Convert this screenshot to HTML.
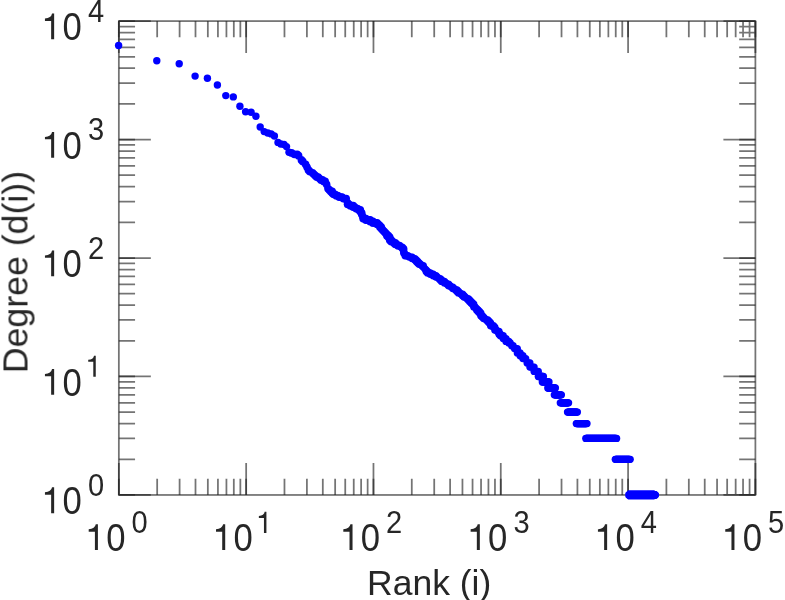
<!DOCTYPE html>
<html><head><meta charset="utf-8"><title>Degree vs Rank</title>
<style>
html,body{margin:0;padding:0;background:#fff;}
body{width:785px;height:600px;overflow:hidden;}
svg{display:block;}
text{font-family:"Liberation Sans",sans-serif;fill:#262626;}
</style></head><body>
<svg width="785" height="600" viewBox="0 0 785 600">
<defs><filter id="bl" x="-5%" y="-5%" width="110%" height="110%"><feGaussianBlur stdDeviation="0.45"/></filter></defs>
<rect width="785" height="600" fill="#ffffff"/>
<g fill="none" stroke="#262626" stroke-opacity="0.64" stroke-width="1.75" filter="url(#bl)">
<rect x="118.85" y="21.10" width="636.55" height="473.85"/>
<path d="M118.85 494.95V462.95M118.85 21.10V53.10M157.17 494.95V478.75M157.17 21.10V37.30M179.59 494.95V478.75M179.59 21.10V37.30M195.50 494.95V478.75M195.50 21.10V37.30M207.84 494.95V478.75M207.84 21.10V37.30M217.92 494.95V478.75M217.92 21.10V37.30M226.44 494.95V478.75M226.44 21.10V37.30M233.82 494.95V478.75M233.82 21.10V37.30M240.33 494.95V478.75M240.33 21.10V37.30M246.16 494.95V462.95M246.16 21.10V53.10M284.48 494.95V478.75M284.48 21.10V37.30M306.90 494.95V478.75M306.90 21.10V37.30M322.81 494.95V478.75M322.81 21.10V37.30M335.15 494.95V478.75M335.15 21.10V37.30M345.23 494.95V478.75M345.23 21.10V37.30M353.75 494.95V478.75M353.75 21.10V37.30M361.13 494.95V478.75M361.13 21.10V37.30M367.64 494.95V478.75M367.64 21.10V37.30M373.47 494.95V462.95M373.47 21.10V53.10M411.79 494.95V478.75M411.79 21.10V37.30M434.21 494.95V478.75M434.21 21.10V37.30M450.12 494.95V478.75M450.12 21.10V37.30M462.46 494.95V478.75M462.46 21.10V37.30M472.54 494.95V478.75M472.54 21.10V37.30M481.06 494.95V478.75M481.06 21.10V37.30M488.44 494.95V478.75M488.44 21.10V37.30M494.95 494.95V478.75M494.95 21.10V37.30M500.78 494.95V462.95M500.78 21.10V53.10M539.10 494.95V478.75M539.10 21.10V37.30M561.52 494.95V478.75M561.52 21.10V37.30M577.43 494.95V478.75M577.43 21.10V37.30M589.77 494.95V478.75M589.77 21.10V37.30M599.85 494.95V478.75M599.85 21.10V37.30M608.37 494.95V478.75M608.37 21.10V37.30M615.75 494.95V478.75M615.75 21.10V37.30M622.26 494.95V478.75M622.26 21.10V37.30M628.09 494.95V462.95M628.09 21.10V53.10M666.41 494.95V478.75M666.41 21.10V37.30M688.83 494.95V478.75M688.83 21.10V37.30M704.74 494.95V478.75M704.74 21.10V37.30M717.08 494.95V478.75M717.08 21.10V37.30M727.16 494.95V478.75M727.16 21.10V37.30M735.68 494.95V478.75M735.68 21.10V37.30M743.06 494.95V478.75M743.06 21.10V37.30M749.57 494.95V478.75M749.57 21.10V37.30M755.40 494.95V462.95M755.40 21.10V53.10M118.85 494.95H150.85M755.40 494.95H723.40M118.85 459.29H135.05M755.40 459.29H739.20M118.85 438.43H135.05M755.40 438.43H739.20M118.85 423.63H135.05M755.40 423.63H739.20M118.85 412.15H135.05M755.40 412.15H739.20M118.85 402.77H135.05M755.40 402.77H739.20M118.85 394.84H135.05M755.40 394.84H739.20M118.85 387.97H135.05M755.40 387.97H739.20M118.85 381.91H135.05M755.40 381.91H739.20M118.85 376.49H150.85M755.40 376.49H723.40M118.85 340.83H135.05M755.40 340.83H739.20M118.85 319.97H135.05M755.40 319.97H739.20M118.85 305.17H135.05M755.40 305.17H739.20M118.85 293.69H135.05M755.40 293.69H739.20M118.85 284.31H135.05M755.40 284.31H739.20M118.85 276.38H135.05M755.40 276.38H739.20M118.85 269.51H135.05M755.40 269.51H739.20M118.85 263.45H135.05M755.40 263.45H739.20M118.85 258.02H150.85M755.40 258.02H723.40M118.85 222.36H135.05M755.40 222.36H739.20M118.85 201.50H135.05M755.40 201.50H739.20M118.85 186.70H135.05M755.40 186.70H739.20M118.85 175.22H135.05M755.40 175.22H739.20M118.85 165.84H135.05M755.40 165.84H739.20M118.85 157.91H135.05M755.40 157.91H739.20M118.85 151.04H135.05M755.40 151.04H739.20M118.85 144.98H135.05M755.40 144.98H739.20M118.85 139.56H150.85M755.40 139.56H723.40M118.85 103.90H135.05M755.40 103.90H739.20M118.85 83.04H135.05M755.40 83.04H739.20M118.85 68.24H135.05M755.40 68.24H739.20M118.85 56.76H135.05M755.40 56.76H739.20M118.85 47.38H135.05M755.40 47.38H739.20M118.85 39.45H135.05M755.40 39.45H739.20M118.85 32.58H135.05M755.40 32.58H739.20M118.85 26.52H135.05M755.40 26.52H739.20M118.85 21.10H150.85M755.40 21.10H723.40"/>
<path d="M118.85 494.95V478.75M118.85 21.10V37.30M246.16 494.95V478.75M246.16 21.10V37.30M373.47 494.95V478.75M373.47 21.10V37.30M500.78 494.95V478.75M500.78 21.10V37.30M628.09 494.95V478.75M628.09 21.10V37.30M755.40 494.95V478.75M755.40 21.10V37.30M118.85 494.95H135.05M755.40 494.95H739.20M118.85 376.49H135.05M755.40 376.49H739.20M118.85 258.02H135.05M755.40 258.02H739.20M118.85 139.56H135.05M755.40 139.56H739.20M118.85 21.10H135.05M755.40 21.10H739.20"/>
</g>
<g filter="url(#bl)"><g fill="#262626"><path d="M94.90 550.10h3.00v-25.80h-2.10q-0.90 4.70 -7.10 5.00v2.40h6.20z"/><text transform="translate(106.2,551.1) scale(0.95,1.04)" font-size="36.5">0</text><text transform="translate(131.4,533.3) scale(0.97,1.025)" font-size="30.0">0</text><path d="M222.21 550.10h3.00v-25.80h-2.10q-0.90 4.70 -7.10 5.00v2.40h6.20z"/><text transform="translate(233.5,551.1) scale(0.95,1.04)" font-size="36.5">0</text><path d="M263.96 533.00h2.46v-21.16h-1.72q-0.74 3.85 -5.82 4.10v1.97h5.08z"/><path d="M349.52 550.10h3.00v-25.80h-2.10q-0.90 4.70 -7.10 5.00v2.40h6.20z"/><text transform="translate(360.8,551.1) scale(0.95,1.04)" font-size="36.5">0</text><text transform="translate(386.1,533.3) scale(0.97,1.025)" font-size="30.0">2</text><path d="M476.83 550.10h3.00v-25.80h-2.10q-0.90 4.70 -7.10 5.00v2.40h6.20z"/><text transform="translate(488.1,551.1) scale(0.95,1.04)" font-size="36.5">0</text><text transform="translate(513.4,533.3) scale(0.97,1.025)" font-size="30.0">3</text><path d="M604.14 550.10h3.00v-25.80h-2.10q-0.90 4.70 -7.10 5.00v2.40h6.20z"/><text transform="translate(615.4,551.1) scale(0.95,1.04)" font-size="36.5">0</text><text transform="translate(640.7,533.3) scale(0.97,1.025)" font-size="30.0">4</text><path d="M731.45 550.10h3.00v-25.80h-2.10q-0.90 4.70 -7.10 5.00v2.40h6.20z"/><text transform="translate(742.7,551.1) scale(0.95,1.04)" font-size="36.5">0</text><text transform="translate(768.0,533.3) scale(0.97,1.025)" font-size="30.0">5</text><path d="M51.15 513.15h3.00v-25.80h-2.10q-0.90 4.70 -7.10 5.00v2.40h6.20z"/><text transform="translate(62.4,514.1) scale(0.95,1.04)" font-size="36.5">0</text><text transform="translate(88.1,495.6) scale(0.97,1.025)" font-size="30.0">0</text><path d="M51.15 394.69h3.00v-25.80h-2.10q-0.90 4.70 -7.10 5.00v2.40h6.20z"/><text transform="translate(62.4,395.7) scale(0.95,1.04)" font-size="36.5">0</text><path d="M93.30 376.79h2.46v-21.16h-1.72q-0.74 3.85 -5.82 4.10v1.97h5.08z"/><path d="M51.15 276.22h3.00v-25.80h-2.10q-0.90 4.70 -7.10 5.00v2.40h6.20z"/><text transform="translate(62.4,277.2) scale(0.95,1.04)" font-size="36.5">0</text><text transform="translate(88.1,258.6) scale(0.97,1.025)" font-size="30.0">2</text><path d="M51.15 157.76h3.00v-25.80h-2.10q-0.90 4.70 -7.10 5.00v2.40h6.20z"/><text transform="translate(62.4,158.8) scale(0.95,1.04)" font-size="36.5">0</text><text transform="translate(88.1,140.2) scale(0.97,1.025)" font-size="30.0">3</text><path d="M51.15 39.30h3.00v-25.80h-2.10q-0.90 4.70 -7.10 5.00v2.40h6.20z"/><text transform="translate(62.4,40.3) scale(0.95,1.04)" font-size="36.5">0</text><text transform="translate(88.1,21.7) scale(0.97,1.025)" font-size="30.0">4</text></g>
<text transform="translate(367.1,594.7) scale(0.988,0.955)" font-size="35.9">Rank (i)</text>
<text transform="translate(27.0,373.2) rotate(-90) scale(1,0.985)" font-size="35.7">Degree (d(i))</text></g>
<g fill="#0000ff" filter="url(#bl)"><circle cx="118.6" cy="45.5" r="3.70"/><circle cx="156.8" cy="60.8" r="3.70"/><circle cx="179.2" cy="63.7" r="3.70"/><circle cx="195.1" cy="76.1" r="3.70"/><circle cx="207.4" cy="78.3" r="3.70"/><circle cx="217.4" cy="85.0" r="3.70"/><circle cx="225.8" cy="95.6" r="3.70"/><circle cx="233.3" cy="96.9" r="3.70"/><circle cx="239.9" cy="106.2" r="3.70"/><circle cx="245.6" cy="111.7" r="3.70"/><circle cx="251.1" cy="112.2" r="3.70"/><circle cx="255.9" cy="116.2" r="3.70"/><circle cx="260.2" cy="127.0" r="3.70"/><circle cx="264.2" cy="131.6" r="3.70"/><circle cx="267.8" cy="133.0" r="3.70"/><circle cx="271.2" cy="133.9" r="3.70"/><circle cx="274.4" cy="136.0" r="3.70"/><circle cx="278.0" cy="142.4" r="3.70"/><circle cx="280.8" cy="144.0" r="3.70"/><circle cx="284.0" cy="144.4" r="3.70"/><circle cx="286.5" cy="146.6" r="3.70"/><circle cx="289.0" cy="152.3" r="3.70"/><ellipse cx="291.6" cy="152.9" rx="3.81" ry="3.89"/><ellipse cx="294.4" cy="154.3" rx="3.81" ry="3.89"/><ellipse cx="297.2" cy="154.3" rx="3.81" ry="3.89"/><ellipse cx="298.6" cy="155.7" rx="3.81" ry="3.89"/><ellipse cx="301.4" cy="160.0" rx="3.81" ry="3.89"/><ellipse cx="302.8" cy="161.4" rx="3.81" ry="3.89"/><ellipse cx="305.6" cy="164.3" rx="3.81" ry="3.89"/><ellipse cx="307.0" cy="167.1" rx="3.81" ry="3.89"/><ellipse cx="308.4" cy="170.0" rx="3.81" ry="3.89"/><ellipse cx="309.8" cy="171.4" rx="3.81" ry="3.89"/><ellipse cx="312.6" cy="172.9" rx="3.81" ry="3.89"/><ellipse cx="314.0" cy="174.3" rx="3.81" ry="3.89"/><ellipse cx="315.4" cy="175.7" rx="3.81" ry="3.89"/><ellipse cx="316.8" cy="177.1" rx="3.81" ry="3.89"/><ellipse cx="318.2" cy="177.1" rx="3.81" ry="3.89"/><ellipse cx="319.6" cy="178.6" rx="3.81" ry="3.89"/><ellipse cx="321.0" cy="180.0" rx="3.81" ry="3.89"/><ellipse cx="322.4" cy="180.0" rx="3.81" ry="3.89"/><ellipse cx="323.8" cy="181.4" rx="3.81" ry="3.89"/><ellipse cx="325.2" cy="181.4" rx="3.81" ry="3.89"/><ellipse cx="326.6" cy="184.3" rx="3.81" ry="3.89"/><ellipse cx="328.0" cy="188.6" rx="3.81" ry="3.89"/><ellipse cx="329.4" cy="190.0" rx="3.81" ry="3.89"/><ellipse cx="330.8" cy="191.4" rx="3.81" ry="3.89"/><ellipse cx="332.2" cy="191.4" rx="3.81" ry="3.89"/><ellipse cx="332.2" cy="192.9" rx="3.81" ry="3.89"/><ellipse cx="333.6" cy="194.3" rx="3.81" ry="3.89"/><ellipse cx="335.0" cy="194.3" rx="3.81" ry="3.89"/><ellipse cx="336.4" cy="195.7" rx="3.81" ry="3.89"/><ellipse cx="337.8" cy="195.7" rx="3.81" ry="3.89"/><ellipse cx="339.2" cy="197.1" rx="3.81" ry="3.89"/><ellipse cx="340.6" cy="197.1" rx="3.81" ry="3.89"/><ellipse cx="342.0" cy="197.1" rx="3.81" ry="3.89"/><ellipse cx="343.4" cy="198.6" rx="3.81" ry="3.89"/><ellipse cx="344.8" cy="198.6" rx="3.81" ry="3.89"/><ellipse cx="346.2" cy="198.6" rx="3.81" ry="3.89"/><ellipse cx="347.6" cy="202.9" rx="3.81" ry="3.89"/><ellipse cx="347.6" cy="204.3" rx="3.81" ry="3.89"/><ellipse cx="349.0" cy="204.3" rx="3.81" ry="3.89"/><ellipse cx="350.4" cy="205.7" rx="3.81" ry="3.89"/><ellipse cx="351.8" cy="205.7" rx="3.81" ry="3.89"/><ellipse cx="353.2" cy="205.7" rx="3.81" ry="3.89"/><ellipse cx="353.2" cy="207.1" rx="3.81" ry="3.89"/><ellipse cx="354.7" cy="207.1" rx="3.81" ry="3.89"/><ellipse cx="356.1" cy="208.6" rx="3.81" ry="3.89"/><ellipse cx="357.5" cy="208.6" rx="3.81" ry="3.89"/><ellipse cx="358.9" cy="210.0" rx="3.81" ry="3.89"/><ellipse cx="360.3" cy="210.0" rx="3.81" ry="3.89"/><ellipse cx="360.3" cy="211.4" rx="3.81" ry="3.89"/><ellipse cx="361.7" cy="212.9" rx="3.81" ry="3.89"/><ellipse cx="361.7" cy="214.3" rx="3.81" ry="3.89"/><ellipse cx="363.1" cy="217.1" rx="3.81" ry="3.89"/><ellipse cx="363.1" cy="218.6" rx="3.81" ry="3.89"/><ellipse cx="364.5" cy="218.6" rx="3.81" ry="3.89"/><ellipse cx="365.9" cy="218.6" rx="3.81" ry="3.89"/><ellipse cx="365.9" cy="220.0" rx="3.81" ry="3.89"/><ellipse cx="367.3" cy="220.0" rx="3.81" ry="3.89"/><ellipse cx="368.7" cy="220.0" rx="3.81" ry="3.89"/><ellipse cx="370.1" cy="220.0" rx="3.81" ry="3.89"/><ellipse cx="370.1" cy="221.4" rx="3.81" ry="3.89"/><ellipse cx="371.5" cy="221.4" rx="3.81" ry="3.89"/><ellipse cx="372.9" cy="221.4" rx="3.81" ry="3.89"/><ellipse cx="372.9" cy="222.9" rx="3.81" ry="3.89"/><ellipse cx="374.3" cy="222.9" rx="3.81" ry="3.89"/><ellipse cx="375.7" cy="222.9" rx="3.81" ry="3.89"/><ellipse cx="377.1" cy="222.9" rx="3.81" ry="3.89"/><ellipse cx="377.1" cy="224.3" rx="3.81" ry="3.89"/><ellipse cx="378.5" cy="224.3" rx="3.81" ry="3.89"/><ellipse cx="379.9" cy="225.7" rx="3.81" ry="3.89"/><ellipse cx="379.9" cy="227.1" rx="3.81" ry="3.89"/><ellipse cx="381.3" cy="227.1" rx="3.81" ry="3.89"/><ellipse cx="381.3" cy="228.6" rx="3.81" ry="3.89"/><ellipse cx="382.7" cy="230.0" rx="3.81" ry="3.89"/><ellipse cx="384.1" cy="231.4" rx="3.81" ry="3.89"/><ellipse cx="385.5" cy="232.9" rx="3.81" ry="3.89"/><ellipse cx="386.9" cy="234.3" rx="3.81" ry="3.89"/><ellipse cx="386.9" cy="235.7" rx="3.81" ry="3.89"/><ellipse cx="388.3" cy="235.7" rx="3.81" ry="3.89"/><ellipse cx="388.3" cy="237.1" rx="3.81" ry="3.89"/><ellipse cx="389.7" cy="237.1" rx="3.81" ry="3.89"/><ellipse cx="389.7" cy="238.6" rx="3.81" ry="3.89"/><ellipse cx="389.7" cy="240.0" rx="3.81" ry="3.89"/><ellipse cx="391.1" cy="240.0" rx="3.81" ry="3.89"/><ellipse cx="391.1" cy="241.4" rx="3.81" ry="3.89"/><ellipse cx="392.5" cy="241.4" rx="3.81" ry="3.89"/><ellipse cx="393.9" cy="242.9" rx="3.81" ry="3.89"/><ellipse cx="395.3" cy="242.9" rx="3.81" ry="3.89"/><ellipse cx="395.3" cy="244.3" rx="3.81" ry="3.89"/><ellipse cx="396.7" cy="244.3" rx="3.81" ry="3.89"/><ellipse cx="398.1" cy="245.7" rx="3.81" ry="3.89"/><ellipse cx="399.5" cy="245.7" rx="3.81" ry="3.89"/><ellipse cx="400.9" cy="247.1" rx="3.64" ry="3.71"/><ellipse cx="402.3" cy="247.1" rx="3.64" ry="3.71"/><ellipse cx="402.3" cy="248.6" rx="3.64" ry="3.71"/><ellipse cx="403.7" cy="248.6" rx="3.64" ry="3.71"/><ellipse cx="403.7" cy="250.0" rx="3.64" ry="3.71"/><ellipse cx="403.7" cy="251.4" rx="3.64" ry="3.71"/><ellipse cx="403.7" cy="252.9" rx="3.64" ry="3.71"/><ellipse cx="405.1" cy="254.3" rx="3.64" ry="3.71"/><ellipse cx="405.1" cy="255.7" rx="3.64" ry="3.71"/><ellipse cx="406.5" cy="255.7" rx="3.64" ry="3.71"/><ellipse cx="407.9" cy="255.7" rx="3.64" ry="3.71"/><ellipse cx="409.3" cy="257.1" rx="3.64" ry="3.71"/><ellipse cx="410.7" cy="257.1" rx="3.64" ry="3.71"/><ellipse cx="412.1" cy="257.1" rx="3.64" ry="3.71"/><ellipse cx="412.1" cy="258.6" rx="3.64" ry="3.71"/><ellipse cx="413.5" cy="258.6" rx="3.64" ry="3.71"/><ellipse cx="414.9" cy="258.6" rx="3.64" ry="3.71"/><ellipse cx="414.9" cy="260.0" rx="3.64" ry="3.71"/><ellipse cx="416.3" cy="260.0" rx="3.64" ry="3.71"/><ellipse cx="416.3" cy="261.4" rx="3.64" ry="3.71"/><ellipse cx="417.7" cy="261.4" rx="3.64" ry="3.71"/><ellipse cx="417.7" cy="262.9" rx="3.64" ry="3.71"/><ellipse cx="419.1" cy="262.9" rx="3.64" ry="3.71"/><ellipse cx="419.1" cy="264.3" rx="3.64" ry="3.71"/><ellipse cx="420.5" cy="264.3" rx="3.64" ry="3.71"/><ellipse cx="421.9" cy="265.7" rx="3.64" ry="3.71"/><ellipse cx="423.3" cy="265.7" rx="3.64" ry="3.71"/><ellipse cx="423.3" cy="267.1" rx="3.64" ry="3.71"/><ellipse cx="424.7" cy="268.6" rx="3.64" ry="3.71"/><ellipse cx="426.1" cy="270.0" rx="3.64" ry="3.71"/><ellipse cx="426.1" cy="271.4" rx="3.64" ry="3.71"/><ellipse cx="427.5" cy="271.4" rx="3.64" ry="3.71"/><ellipse cx="427.5" cy="272.9" rx="3.64" ry="3.71"/><ellipse cx="428.9" cy="272.9" rx="3.64" ry="3.71"/><ellipse cx="430.3" cy="272.9" rx="3.64" ry="3.71"/><ellipse cx="430.3" cy="274.3" rx="3.64" ry="3.71"/><ellipse cx="431.7" cy="274.3" rx="3.64" ry="3.71"/><ellipse cx="433.2" cy="274.3" rx="3.64" ry="3.71"/><ellipse cx="433.2" cy="275.7" rx="3.64" ry="3.71"/><ellipse cx="434.6" cy="275.7" rx="3.64" ry="3.71"/><ellipse cx="436.0" cy="275.7" rx="3.64" ry="3.71"/><ellipse cx="436.0" cy="277.1" rx="3.64" ry="3.71"/><ellipse cx="437.4" cy="277.1" rx="3.64" ry="3.71"/><ellipse cx="438.8" cy="278.6" rx="3.64" ry="3.71"/><ellipse cx="440.2" cy="278.6" rx="3.64" ry="3.71"/><ellipse cx="440.2" cy="280.0" rx="3.64" ry="3.71"/><ellipse cx="441.6" cy="280.0" rx="3.64" ry="3.71"/><ellipse cx="441.6" cy="281.4" rx="3.64" ry="3.71"/><ellipse cx="443.0" cy="281.4" rx="3.64" ry="3.71"/><ellipse cx="444.4" cy="281.4" rx="3.64" ry="3.71"/><ellipse cx="444.4" cy="282.9" rx="3.64" ry="3.71"/><ellipse cx="445.8" cy="282.9" rx="3.64" ry="3.71"/><ellipse cx="447.2" cy="284.3" rx="3.64" ry="3.71"/><ellipse cx="448.6" cy="284.3" rx="3.64" ry="3.71"/><ellipse cx="448.6" cy="285.7" rx="3.64" ry="3.71"/><ellipse cx="450.0" cy="285.7" rx="3.64" ry="3.71"/><ellipse cx="451.4" cy="287.1" rx="3.64" ry="3.71"/><ellipse cx="452.8" cy="287.1" rx="3.64" ry="3.71"/><ellipse cx="452.8" cy="288.6" rx="3.64" ry="3.71"/><ellipse cx="454.2" cy="288.6" rx="3.64" ry="3.71"/><ellipse cx="455.6" cy="290.0" rx="3.64" ry="3.71"/><ellipse cx="457.0" cy="290.0" rx="3.64" ry="3.71"/><ellipse cx="457.0" cy="291.4" rx="3.64" ry="3.71"/><ellipse cx="458.4" cy="291.4" rx="3.64" ry="3.71"/><ellipse cx="458.4" cy="292.9" rx="3.64" ry="3.71"/><ellipse cx="459.8" cy="292.9" rx="3.64" ry="3.71"/><ellipse cx="461.2" cy="294.3" rx="3.64" ry="3.71"/><ellipse cx="462.6" cy="294.3" rx="3.64" ry="3.71"/><ellipse cx="462.6" cy="295.7" rx="3.64" ry="3.71"/><ellipse cx="464.0" cy="295.7" rx="3.64" ry="3.71"/><ellipse cx="464.0" cy="297.1" rx="3.64" ry="3.71"/><ellipse cx="465.4" cy="297.1" rx="3.64" ry="3.71"/><ellipse cx="466.8" cy="298.6" rx="3.64" ry="3.71"/><ellipse cx="468.2" cy="298.6" rx="3.64" ry="3.71"/><ellipse cx="468.2" cy="300.0" rx="3.64" ry="3.71"/><ellipse cx="469.6" cy="300.0" rx="3.64" ry="3.71"/><ellipse cx="469.6" cy="301.4" rx="3.64" ry="3.71"/><ellipse cx="471.0" cy="301.4" rx="3.64" ry="3.71"/><ellipse cx="471.0" cy="302.9" rx="3.64" ry="3.71"/><ellipse cx="472.4" cy="302.9" rx="3.64" ry="3.71"/><ellipse cx="472.4" cy="304.3" rx="3.64" ry="3.71"/><ellipse cx="473.8" cy="304.3" rx="3.64" ry="3.71"/><ellipse cx="473.8" cy="305.7" rx="3.64" ry="3.71"/><ellipse cx="473.8" cy="307.1" rx="3.64" ry="3.71"/><ellipse cx="475.2" cy="307.1" rx="3.64" ry="3.71"/><ellipse cx="476.6" cy="308.6" rx="3.64" ry="3.71"/><ellipse cx="476.6" cy="310.0" rx="3.64" ry="3.71"/><ellipse cx="478.0" cy="310.0" rx="3.64" ry="3.71"/><ellipse cx="478.0" cy="311.4" rx="3.64" ry="3.71"/><ellipse cx="479.4" cy="311.4" rx="3.64" ry="3.71"/><ellipse cx="479.4" cy="312.9" rx="3.64" ry="3.71"/><ellipse cx="480.8" cy="312.9" rx="3.64" ry="3.71"/><ellipse cx="480.8" cy="315.7" rx="3.64" ry="3.71"/><ellipse cx="482.2" cy="315.7" rx="3.64" ry="3.71"/><ellipse cx="482.2" cy="317.1" rx="3.64" ry="3.71"/><ellipse cx="483.6" cy="317.1" rx="3.64" ry="3.71"/><ellipse cx="483.6" cy="318.6" rx="3.64" ry="3.71"/><ellipse cx="485.0" cy="318.6" rx="3.64" ry="3.71"/><ellipse cx="486.4" cy="320.0" rx="3.64" ry="3.71"/><ellipse cx="487.8" cy="320.0" rx="3.64" ry="3.71"/><ellipse cx="487.8" cy="321.4" rx="3.64" ry="3.71"/><ellipse cx="489.2" cy="321.4" rx="3.64" ry="3.71"/><ellipse cx="489.2" cy="322.9" rx="3.64" ry="3.71"/><ellipse cx="490.6" cy="322.9" rx="3.64" ry="3.71"/><ellipse cx="490.6" cy="325.7" rx="3.64" ry="3.71"/><ellipse cx="492.0" cy="325.7" rx="3.64" ry="3.71"/><ellipse cx="493.4" cy="325.7" rx="3.64" ry="3.71"/><ellipse cx="493.4" cy="327.1" rx="3.64" ry="3.71"/><ellipse cx="494.8" cy="327.1" rx="3.64" ry="3.71"/><ellipse cx="494.8" cy="330.0" rx="3.64" ry="3.71"/><ellipse cx="496.2" cy="330.0" rx="3.64" ry="3.71"/><ellipse cx="497.6" cy="331.4" rx="3.64" ry="3.71"/><ellipse cx="499.0" cy="331.4" rx="3.64" ry="3.71"/><ellipse cx="499.0" cy="334.3" rx="3.64" ry="3.71"/><ellipse cx="500.4" cy="334.3" rx="3.64" ry="3.71"/><ellipse cx="500.4" cy="335.7" rx="3.64" ry="3.71"/><ellipse cx="501.8" cy="335.7" rx="3.64" ry="3.71"/><ellipse cx="503.2" cy="335.7" rx="3.64" ry="3.71"/><ellipse cx="503.2" cy="338.6" rx="3.64" ry="3.71"/><ellipse cx="504.6" cy="338.6" rx="3.64" ry="3.71"/><ellipse cx="506.0" cy="338.6" rx="3.64" ry="3.71"/><ellipse cx="506.0" cy="341.4" rx="3.64" ry="3.71"/><ellipse cx="507.4" cy="341.4" rx="3.64" ry="3.71"/><ellipse cx="508.8" cy="341.4" rx="3.64" ry="3.71"/><ellipse cx="508.8" cy="342.9" rx="3.64" ry="3.71"/><ellipse cx="510.2" cy="342.9" rx="3.64" ry="3.71"/><ellipse cx="511.7" cy="345.7" rx="3.64" ry="3.71"/><ellipse cx="513.1" cy="345.7" rx="3.64" ry="3.71"/><ellipse cx="514.5" cy="348.6" rx="3.64" ry="3.71"/><ellipse cx="515.9" cy="348.6" rx="3.64" ry="3.71"/><ellipse cx="517.3" cy="348.6" rx="3.64" ry="3.71"/><ellipse cx="517.3" cy="352.9" rx="3.64" ry="3.71"/><ellipse cx="518.7" cy="352.9" rx="3.64" ry="3.71"/><ellipse cx="520.1" cy="352.9" rx="3.64" ry="3.71"/><ellipse cx="520.1" cy="355.7" rx="3.64" ry="3.71"/><ellipse cx="521.5" cy="355.7" rx="3.64" ry="3.71"/><ellipse cx="522.9" cy="355.7" rx="3.64" ry="3.71"/><ellipse cx="522.9" cy="358.6" rx="3.64" ry="3.71"/><ellipse cx="524.3" cy="358.6" rx="3.64" ry="3.71"/><ellipse cx="525.7" cy="358.6" rx="3.64" ry="3.71"/><ellipse cx="527.1" cy="362.9" rx="3.64" ry="3.71"/><ellipse cx="528.5" cy="362.9" rx="3.64" ry="3.71"/><ellipse cx="529.9" cy="362.9" rx="3.64" ry="3.71"/><ellipse cx="529.9" cy="367.1" rx="3.64" ry="3.71"/><ellipse cx="531.3" cy="367.1" rx="3.64" ry="3.71"/><ellipse cx="532.7" cy="367.1" rx="3.64" ry="3.71"/><ellipse cx="534.1" cy="367.1" rx="3.64" ry="3.71"/><ellipse cx="534.1" cy="371.4" rx="3.64" ry="3.71"/><ellipse cx="535.5" cy="371.4" rx="3.64" ry="3.71"/><ellipse cx="536.9" cy="371.4" rx="3.64" ry="3.71"/><ellipse cx="538.3" cy="371.4" rx="3.64" ry="3.71"/><circle cx="539.0" cy="376.5" r="3.65"/><circle cx="539.4" cy="376.5" r="3.65"/><circle cx="539.8" cy="376.5" r="3.65"/><circle cx="540.2" cy="376.5" r="3.65"/><circle cx="540.6" cy="376.5" r="3.65"/><circle cx="541.0" cy="376.5" r="3.65"/><circle cx="541.4" cy="376.5" r="3.65"/><circle cx="541.8" cy="376.5" r="3.65"/><circle cx="542.2" cy="376.5" r="3.65"/><circle cx="542.6" cy="376.5" r="3.65"/><circle cx="543.0" cy="381.9" r="3.65"/><circle cx="543.4" cy="381.9" r="3.65"/><circle cx="543.8" cy="381.9" r="3.65"/><circle cx="544.2" cy="381.9" r="3.65"/><circle cx="544.6" cy="381.9" r="3.65"/><circle cx="545.0" cy="381.9" r="3.65"/><circle cx="545.4" cy="381.9" r="3.65"/><circle cx="545.8" cy="381.9" r="3.65"/><circle cx="546.2" cy="381.9" r="3.65"/><circle cx="546.6" cy="381.9" r="3.65"/><circle cx="547.0" cy="381.9" r="3.65"/><circle cx="547.4" cy="381.9" r="3.65"/><circle cx="547.8" cy="381.9" r="3.65"/><circle cx="548.2" cy="381.9" r="3.65"/><circle cx="548.5" cy="388.0" r="3.65"/><circle cx="548.6" cy="388.0" r="3.65"/><circle cx="549.0" cy="388.0" r="3.65"/><circle cx="549.4" cy="388.0" r="3.65"/><circle cx="549.8" cy="388.0" r="3.65"/><circle cx="550.2" cy="388.0" r="3.65"/><circle cx="550.6" cy="388.0" r="3.65"/><circle cx="551.0" cy="388.0" r="3.65"/><circle cx="551.4" cy="388.0" r="3.65"/><circle cx="551.8" cy="388.0" r="3.65"/><circle cx="552.2" cy="388.0" r="3.65"/><circle cx="552.6" cy="388.0" r="3.65"/><circle cx="553.0" cy="388.0" r="3.65"/><circle cx="553.4" cy="388.0" r="3.65"/><circle cx="553.8" cy="388.0" r="3.65"/><circle cx="554.2" cy="388.0" r="3.65"/><circle cx="554.6" cy="388.0" r="3.65"/><circle cx="555.0" cy="394.8" r="3.65"/><circle cx="555.4" cy="394.8" r="3.65"/><circle cx="555.8" cy="394.8" r="3.65"/><circle cx="556.2" cy="394.8" r="3.65"/><circle cx="556.6" cy="394.8" r="3.65"/><circle cx="557.0" cy="394.8" r="3.65"/><circle cx="557.4" cy="394.8" r="3.65"/><circle cx="557.8" cy="394.8" r="3.65"/><circle cx="558.2" cy="394.8" r="3.65"/><circle cx="558.6" cy="394.8" r="3.65"/><circle cx="559.0" cy="394.8" r="3.65"/><circle cx="559.4" cy="394.8" r="3.65"/><circle cx="559.8" cy="394.8" r="3.65"/><circle cx="560.2" cy="394.8" r="3.65"/><circle cx="560.6" cy="394.8" r="3.65"/><circle cx="561.0" cy="402.8" r="3.65"/><circle cx="561.4" cy="402.8" r="3.65"/><circle cx="561.8" cy="402.8" r="3.65"/><circle cx="562.2" cy="402.8" r="3.65"/><circle cx="562.6" cy="402.8" r="3.65"/><circle cx="563.0" cy="402.8" r="3.65"/><circle cx="563.4" cy="402.8" r="3.65"/><circle cx="563.8" cy="402.8" r="3.65"/><circle cx="564.2" cy="402.8" r="3.65"/><circle cx="564.6" cy="402.8" r="3.65"/><circle cx="565.0" cy="402.8" r="3.65"/><circle cx="565.4" cy="402.8" r="3.65"/><circle cx="565.8" cy="402.8" r="3.65"/><circle cx="566.2" cy="402.8" r="3.65"/><circle cx="566.6" cy="402.8" r="3.65"/><circle cx="567.0" cy="402.8" r="3.65"/><circle cx="567.4" cy="402.8" r="3.65"/><circle cx="567.8" cy="402.8" r="3.65"/><circle cx="568.2" cy="412.1" r="3.65"/><circle cx="568.6" cy="412.1" r="3.65"/><circle cx="569.0" cy="412.1" r="3.65"/><circle cx="569.4" cy="412.1" r="3.65"/><circle cx="569.8" cy="412.1" r="3.65"/><circle cx="570.2" cy="412.1" r="3.65"/><circle cx="570.6" cy="412.1" r="3.65"/><circle cx="571.0" cy="412.1" r="3.65"/><circle cx="571.4" cy="412.1" r="3.65"/><circle cx="571.8" cy="412.1" r="3.65"/><circle cx="572.2" cy="412.1" r="3.65"/><circle cx="572.6" cy="412.1" r="3.65"/><circle cx="573.0" cy="412.1" r="3.65"/><circle cx="573.4" cy="412.1" r="3.65"/><circle cx="573.8" cy="412.1" r="3.65"/><circle cx="574.2" cy="412.1" r="3.65"/><circle cx="574.6" cy="412.1" r="3.65"/><circle cx="575.0" cy="412.1" r="3.65"/><circle cx="575.4" cy="412.1" r="3.65"/><circle cx="575.8" cy="412.1" r="3.65"/><circle cx="576.2" cy="412.1" r="3.65"/><circle cx="576.6" cy="412.1" r="3.65"/><circle cx="577.0" cy="423.6" r="3.65"/><circle cx="577.4" cy="423.6" r="3.65"/><circle cx="577.8" cy="423.6" r="3.65"/><circle cx="578.2" cy="423.6" r="3.65"/><circle cx="578.6" cy="423.6" r="3.65"/><circle cx="579.0" cy="423.6" r="3.65"/><circle cx="579.4" cy="423.6" r="3.65"/><circle cx="579.8" cy="423.6" r="3.65"/><circle cx="580.2" cy="423.6" r="3.65"/><circle cx="580.6" cy="423.6" r="3.65"/><circle cx="581.0" cy="423.6" r="3.65"/><circle cx="581.4" cy="423.6" r="3.65"/><circle cx="581.8" cy="423.6" r="3.65"/><circle cx="582.2" cy="423.6" r="3.65"/><circle cx="582.6" cy="423.6" r="3.65"/><circle cx="583.0" cy="423.6" r="3.65"/><circle cx="583.4" cy="423.6" r="3.65"/><circle cx="583.8" cy="423.6" r="3.65"/><circle cx="584.2" cy="423.6" r="3.65"/><circle cx="584.6" cy="423.6" r="3.65"/><circle cx="585.0" cy="423.6" r="3.65"/><circle cx="585.4" cy="423.6" r="3.65"/><circle cx="585.8" cy="423.6" r="3.65"/><circle cx="586.2" cy="423.6" r="3.65"/><circle cx="586.5" cy="438.4" r="3.65"/><circle cx="586.6" cy="438.4" r="3.65"/><circle cx="587.0" cy="438.4" r="3.65"/><circle cx="587.4" cy="438.4" r="3.65"/><circle cx="587.8" cy="438.4" r="3.65"/><circle cx="588.2" cy="438.4" r="3.65"/><circle cx="588.6" cy="438.4" r="3.65"/><circle cx="589.0" cy="438.4" r="3.65"/><circle cx="589.4" cy="438.4" r="3.65"/><circle cx="589.8" cy="438.4" r="3.65"/><circle cx="590.2" cy="438.4" r="3.65"/><circle cx="590.6" cy="438.4" r="3.65"/><circle cx="591.0" cy="438.4" r="3.65"/><circle cx="591.4" cy="438.4" r="3.65"/><circle cx="591.8" cy="438.4" r="3.65"/><circle cx="592.2" cy="438.4" r="3.65"/><circle cx="592.6" cy="438.4" r="3.65"/><circle cx="593.0" cy="438.4" r="3.65"/><circle cx="593.4" cy="438.4" r="3.65"/><circle cx="593.8" cy="438.4" r="3.65"/><circle cx="594.2" cy="438.4" r="3.65"/><circle cx="594.6" cy="438.4" r="3.65"/><circle cx="595.0" cy="438.4" r="3.65"/><circle cx="595.4" cy="438.4" r="3.65"/><circle cx="595.8" cy="438.4" r="3.65"/><circle cx="596.2" cy="438.4" r="3.65"/><circle cx="596.6" cy="438.4" r="3.65"/><circle cx="597.0" cy="438.4" r="3.65"/><circle cx="597.4" cy="438.4" r="3.65"/><circle cx="597.8" cy="438.4" r="3.65"/><circle cx="598.2" cy="438.4" r="3.65"/><circle cx="598.6" cy="438.4" r="3.65"/><circle cx="599.0" cy="438.4" r="3.65"/><circle cx="599.4" cy="438.4" r="3.65"/><circle cx="599.8" cy="438.4" r="3.65"/><circle cx="600.2" cy="438.4" r="3.65"/><circle cx="600.6" cy="438.4" r="3.65"/><circle cx="601.0" cy="438.4" r="3.65"/><circle cx="601.4" cy="438.4" r="3.65"/><circle cx="601.8" cy="438.4" r="3.65"/><circle cx="602.2" cy="438.4" r="3.65"/><circle cx="602.6" cy="438.4" r="3.65"/><circle cx="603.0" cy="438.4" r="3.65"/><circle cx="603.4" cy="438.4" r="3.65"/><circle cx="603.8" cy="438.4" r="3.65"/><circle cx="604.2" cy="438.4" r="3.65"/><circle cx="604.6" cy="438.4" r="3.65"/><circle cx="605.0" cy="438.4" r="3.65"/><circle cx="605.4" cy="438.4" r="3.65"/><circle cx="605.8" cy="438.4" r="3.65"/><circle cx="606.2" cy="438.4" r="3.65"/><circle cx="606.6" cy="438.4" r="3.65"/><circle cx="607.0" cy="438.4" r="3.65"/><circle cx="607.4" cy="438.4" r="3.65"/><circle cx="607.8" cy="438.4" r="3.65"/><circle cx="608.2" cy="438.4" r="3.65"/><circle cx="608.6" cy="438.4" r="3.65"/><circle cx="609.0" cy="438.4" r="3.65"/><circle cx="609.4" cy="438.4" r="3.65"/><circle cx="609.8" cy="438.4" r="3.65"/><circle cx="610.2" cy="438.4" r="3.65"/><circle cx="610.6" cy="438.4" r="3.65"/><circle cx="611.0" cy="438.4" r="3.65"/><circle cx="611.4" cy="438.4" r="3.65"/><circle cx="611.8" cy="438.4" r="3.65"/><circle cx="612.2" cy="438.4" r="3.65"/><circle cx="612.6" cy="438.4" r="3.65"/><circle cx="613.0" cy="438.4" r="3.65"/><circle cx="613.4" cy="438.4" r="3.65"/><circle cx="613.8" cy="438.4" r="3.65"/><circle cx="614.2" cy="438.4" r="3.65"/><circle cx="614.6" cy="438.4" r="3.65"/><circle cx="615.0" cy="438.4" r="3.65"/><circle cx="615.4" cy="438.4" r="3.65"/><circle cx="615.8" cy="438.4" r="3.65"/><circle cx="616.0" cy="459.3" r="3.65"/><circle cx="616.2" cy="459.3" r="3.65"/><circle cx="616.6" cy="459.3" r="3.65"/><circle cx="617.0" cy="459.3" r="3.65"/><circle cx="617.4" cy="459.3" r="3.65"/><circle cx="617.8" cy="459.3" r="3.65"/><circle cx="618.2" cy="459.3" r="3.65"/><circle cx="618.6" cy="459.3" r="3.65"/><circle cx="619.0" cy="459.3" r="3.65"/><circle cx="619.4" cy="459.3" r="3.65"/><circle cx="619.8" cy="459.3" r="3.65"/><circle cx="620.2" cy="459.3" r="3.65"/><circle cx="620.6" cy="459.3" r="3.65"/><circle cx="621.0" cy="459.3" r="3.65"/><circle cx="621.4" cy="459.3" r="3.65"/><circle cx="621.8" cy="459.3" r="3.65"/><circle cx="622.2" cy="459.3" r="3.65"/><circle cx="622.6" cy="459.3" r="3.65"/><circle cx="623.0" cy="459.3" r="3.65"/><circle cx="623.4" cy="459.3" r="3.65"/><circle cx="623.8" cy="459.3" r="3.65"/><circle cx="624.2" cy="459.3" r="3.65"/><circle cx="624.6" cy="459.3" r="3.65"/><circle cx="625.0" cy="459.3" r="3.65"/><circle cx="625.4" cy="459.3" r="3.65"/><circle cx="625.8" cy="459.3" r="3.65"/><circle cx="626.2" cy="459.3" r="3.65"/><circle cx="626.6" cy="459.3" r="3.65"/><circle cx="627.0" cy="459.3" r="3.65"/><circle cx="627.4" cy="459.3" r="3.65"/><circle cx="627.8" cy="459.3" r="3.65"/><circle cx="628.2" cy="459.3" r="3.65"/><circle cx="628.6" cy="459.3" r="3.65"/><circle cx="629.0" cy="459.3" r="3.65"/><circle cx="629.4" cy="459.3" r="3.65"/><circle cx="629.7" cy="494.9" r="3.65"/><circle cx="629.8" cy="494.9" r="3.65"/><circle cx="630.2" cy="494.9" r="3.65"/><circle cx="630.6" cy="494.9" r="3.65"/><circle cx="631.0" cy="494.9" r="3.65"/><circle cx="631.4" cy="494.9" r="3.65"/><circle cx="631.8" cy="494.9" r="3.65"/><circle cx="632.2" cy="494.9" r="3.65"/><circle cx="632.6" cy="494.9" r="3.65"/><circle cx="633.0" cy="494.9" r="3.65"/><circle cx="633.4" cy="494.9" r="3.65"/><circle cx="633.8" cy="494.9" r="3.65"/><circle cx="634.2" cy="494.9" r="3.65"/><circle cx="634.6" cy="494.9" r="3.65"/><circle cx="635.0" cy="494.9" r="3.65"/><circle cx="635.4" cy="494.9" r="3.65"/><circle cx="635.8" cy="494.9" r="3.65"/><circle cx="636.2" cy="494.9" r="3.65"/><circle cx="636.6" cy="494.9" r="3.65"/><circle cx="637.0" cy="494.9" r="3.65"/><circle cx="637.4" cy="494.9" r="3.65"/><circle cx="637.8" cy="494.9" r="3.65"/><circle cx="638.2" cy="494.9" r="3.65"/><circle cx="638.6" cy="494.9" r="3.65"/><circle cx="639.0" cy="494.9" r="3.65"/><circle cx="639.4" cy="494.9" r="3.65"/><circle cx="639.8" cy="494.9" r="3.65"/><circle cx="640.2" cy="494.9" r="3.65"/><circle cx="640.6" cy="494.9" r="3.65"/><circle cx="641.0" cy="494.9" r="3.65"/><circle cx="641.4" cy="494.9" r="3.65"/><circle cx="641.8" cy="494.9" r="3.65"/><circle cx="642.2" cy="494.9" r="3.65"/><circle cx="642.6" cy="494.9" r="3.65"/><circle cx="643.0" cy="494.9" r="3.65"/><circle cx="643.4" cy="494.9" r="3.65"/><circle cx="643.8" cy="494.9" r="3.65"/><circle cx="644.2" cy="494.9" r="3.65"/><circle cx="644.6" cy="494.9" r="3.65"/><circle cx="645.0" cy="494.9" r="3.65"/><circle cx="645.4" cy="494.9" r="3.65"/><circle cx="645.8" cy="494.9" r="3.65"/><circle cx="646.2" cy="494.9" r="3.65"/><circle cx="646.6" cy="494.9" r="3.65"/><circle cx="647.0" cy="494.9" r="3.65"/><circle cx="647.4" cy="494.9" r="3.65"/><circle cx="647.8" cy="494.9" r="3.65"/><circle cx="648.2" cy="494.9" r="3.65"/><circle cx="648.6" cy="494.9" r="3.65"/><circle cx="649.0" cy="494.9" r="3.65"/><circle cx="649.4" cy="494.9" r="3.65"/><circle cx="649.8" cy="494.9" r="3.65"/><circle cx="650.2" cy="494.9" r="3.65"/><circle cx="650.6" cy="494.9" r="3.65"/><circle cx="651.0" cy="494.9" r="3.65"/><circle cx="651.4" cy="494.9" r="3.65"/><circle cx="651.8" cy="494.9" r="3.65"/><circle cx="652.2" cy="494.9" r="3.65"/><circle cx="652.6" cy="494.9" r="3.65"/><circle cx="653.0" cy="494.9" r="3.65"/><circle cx="653.4" cy="494.9" r="3.65"/><circle cx="653.8" cy="494.9" r="3.65"/><circle cx="654.2" cy="494.9" r="3.65"/><circle cx="654.6" cy="494.9" r="3.65"/><circle cx="655.0" cy="494.9" r="3.65"/><circle cx="655.2" cy="494.9" r="3.65"/><circle cx="538.3" cy="376.5" r="3.65"/><circle cx="543.4" cy="376.5" r="3.65"/><circle cx="542.3" cy="381.9" r="3.65"/><circle cx="549.0" cy="381.9" r="3.65"/><circle cx="547.8" cy="388.0" r="3.65"/><circle cx="555.4" cy="388.0" r="3.65"/><circle cx="554.3" cy="394.8" r="3.65"/><circle cx="561.4" cy="394.8" r="3.65"/><circle cx="560.3" cy="402.8" r="3.65"/><circle cx="568.6" cy="402.8" r="3.65"/><circle cx="567.5" cy="412.1" r="3.65"/><circle cx="577.4" cy="412.1" r="3.65"/><circle cx="576.3" cy="423.6" r="3.65"/><circle cx="587.0" cy="423.6" r="3.65"/><circle cx="585.8" cy="438.4" r="3.65"/><circle cx="616.6" cy="438.4" r="3.65"/><circle cx="615.3" cy="459.3" r="3.65"/><circle cx="630.2" cy="459.3" r="3.65"/><circle cx="629.0" cy="494.9" r="3.65"/><circle cx="655.2" cy="494.9" r="3.65"/><polygon points="628.2,490.3 654.3,490.3 659.2,494.9 654.3,499.6 628.2,499.6 625.5,497.2 625.5,492.7"/></g>
</svg>
</body></html>
